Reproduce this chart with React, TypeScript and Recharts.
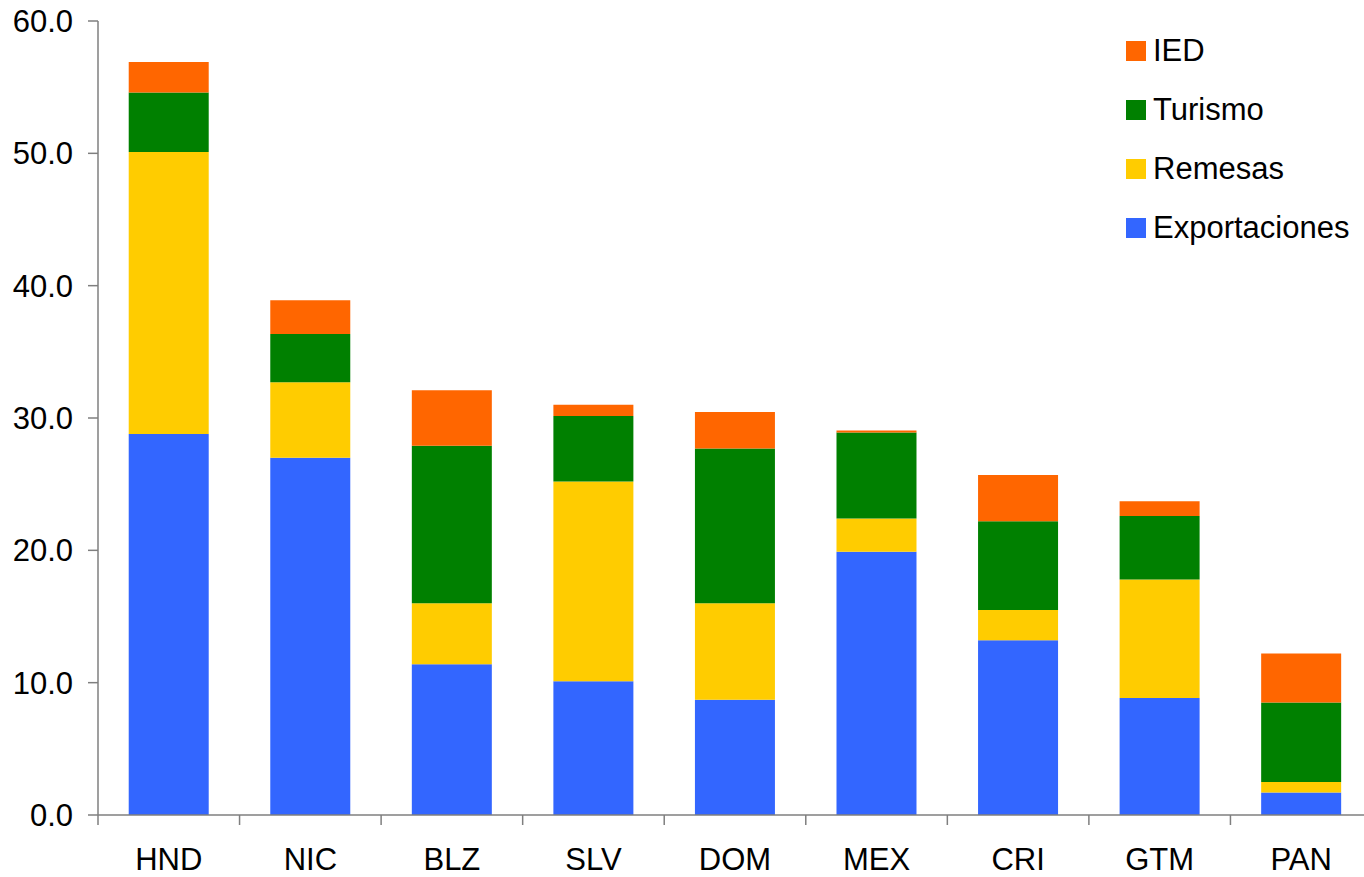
import { Bar, BarChart, XAxis, YAxis } from "recharts";

const countries = ["HND", "NIC", "BLZ", "SLV", "DOM", "MEX", "CRI", "GTM", "PAN"];
const exportaciones = [28.8, 27.0, 11.4, 10.1, 8.7, 19.9, 13.2, 8.85, 1.7];
const remesas = [21.3, 5.7, 4.6, 15.1, 7.3, 2.5, 2.3, 8.95, 0.8];
const turismo = [4.5, 3.65, 11.9, 4.95, 11.7, 6.5, 6.7, 4.8, 6.0];
const ied = [2.3, 2.55, 4.2, 0.85, 2.75, 0.15, 3.5, 1.1, 3.7];
const yTicks = [0, 10, 20, 30, 40, 50, 60];

const series = [
  { key: "exportaciones", name: "Exportaciones", color: "#3366FF" },
  { key: "remesas", name: "Remesas", color: "#FFCC00" },
  { key: "turismo", name: "Turismo", color: "#008000" },
  { key: "ied", name: "IED", color: "#FF6600" },
];

const data = countries.map((name, i) => ({
  name,
  exportaciones: exportaciones[i],
  remesas: remesas[i],
  turismo: turismo[i],
  ied: ied[i],
}));

const FONT = "'Liberation Sans', Arial, sans-serif";
const AXIS = "#7f7f7f";

function CountryTick(props: any) {
  const { x, y, payload } = props;
  const half = payload.offset ?? 0;
  return (
    <g>
      <line x1={x - half} x2={x - half} y1={y - 33} y2={y - 23} stroke={AXIS} strokeWidth={1.5} />
      <text x={x} y={y} dy="0.71em" textAnchor="middle" fill="#000" fontSize={31} fontFamily={FONT}>
        {payload.value}
      </text>
    </g>
  );
}

function LegendBox() {
  return (
    <div style={{ position: "absolute", top: 21, left: 1126, fontFamily: FONT, fontSize: 31, color: "#000" }}>
      {[...series].reverse().map((s) => (
        <div key={s.key} style={{ display: "flex", alignItems: "center", height: 59, whiteSpace: "nowrap" }}>
          <span style={{ width: 20, height: 20, background: s.color, marginRight: 7, display: "inline-block" }} />
          <span>{s.name}</span>
        </div>
      ))}
    </div>
  );
}

export default function App() {
  return (
    <div style={{ position: "absolute", left: 0, top: 0, width: 1364, height: 877, overflow: "hidden", background: "#fff" }}>
      <BarChart
        width={1372}
        height={877}
        data={data}
        margin={{ top: 21, right: 0, left: 0, bottom: 0 }}
        barCategoryGap="21.7%"
      >
        <XAxis
          dataKey="name"
          height={62}
          axisLine={{ stroke: AXIS, strokeWidth: 1.5 }}
          tickLine={false}
          tickSize={10}
          tickMargin={23}
          tick={<CountryTick />}
          interval={0}
        />
        <YAxis
          width={98}
          domain={[0, 60]}
          ticks={yTicks}
          interval={0}
          tickFormatter={(v: number) => v.toFixed(1)}
          axisLine={{ stroke: AXIS, strokeWidth: 1.5 }}
          tickLine={{ stroke: AXIS, strokeWidth: 1.5 }}
          tickSize={10}
          tickMargin={15}
          tick={{ fill: "#000", fontSize: 31, fontFamily: FONT }}
        />
        {series.map((s) => (
          <Bar key={s.key} dataKey={s.key} name={s.name} stackId="a" fill={s.color} isAnimationActive={false} />
        ))}
      </BarChart>
      <LegendBox />
    </div>
  );
}
